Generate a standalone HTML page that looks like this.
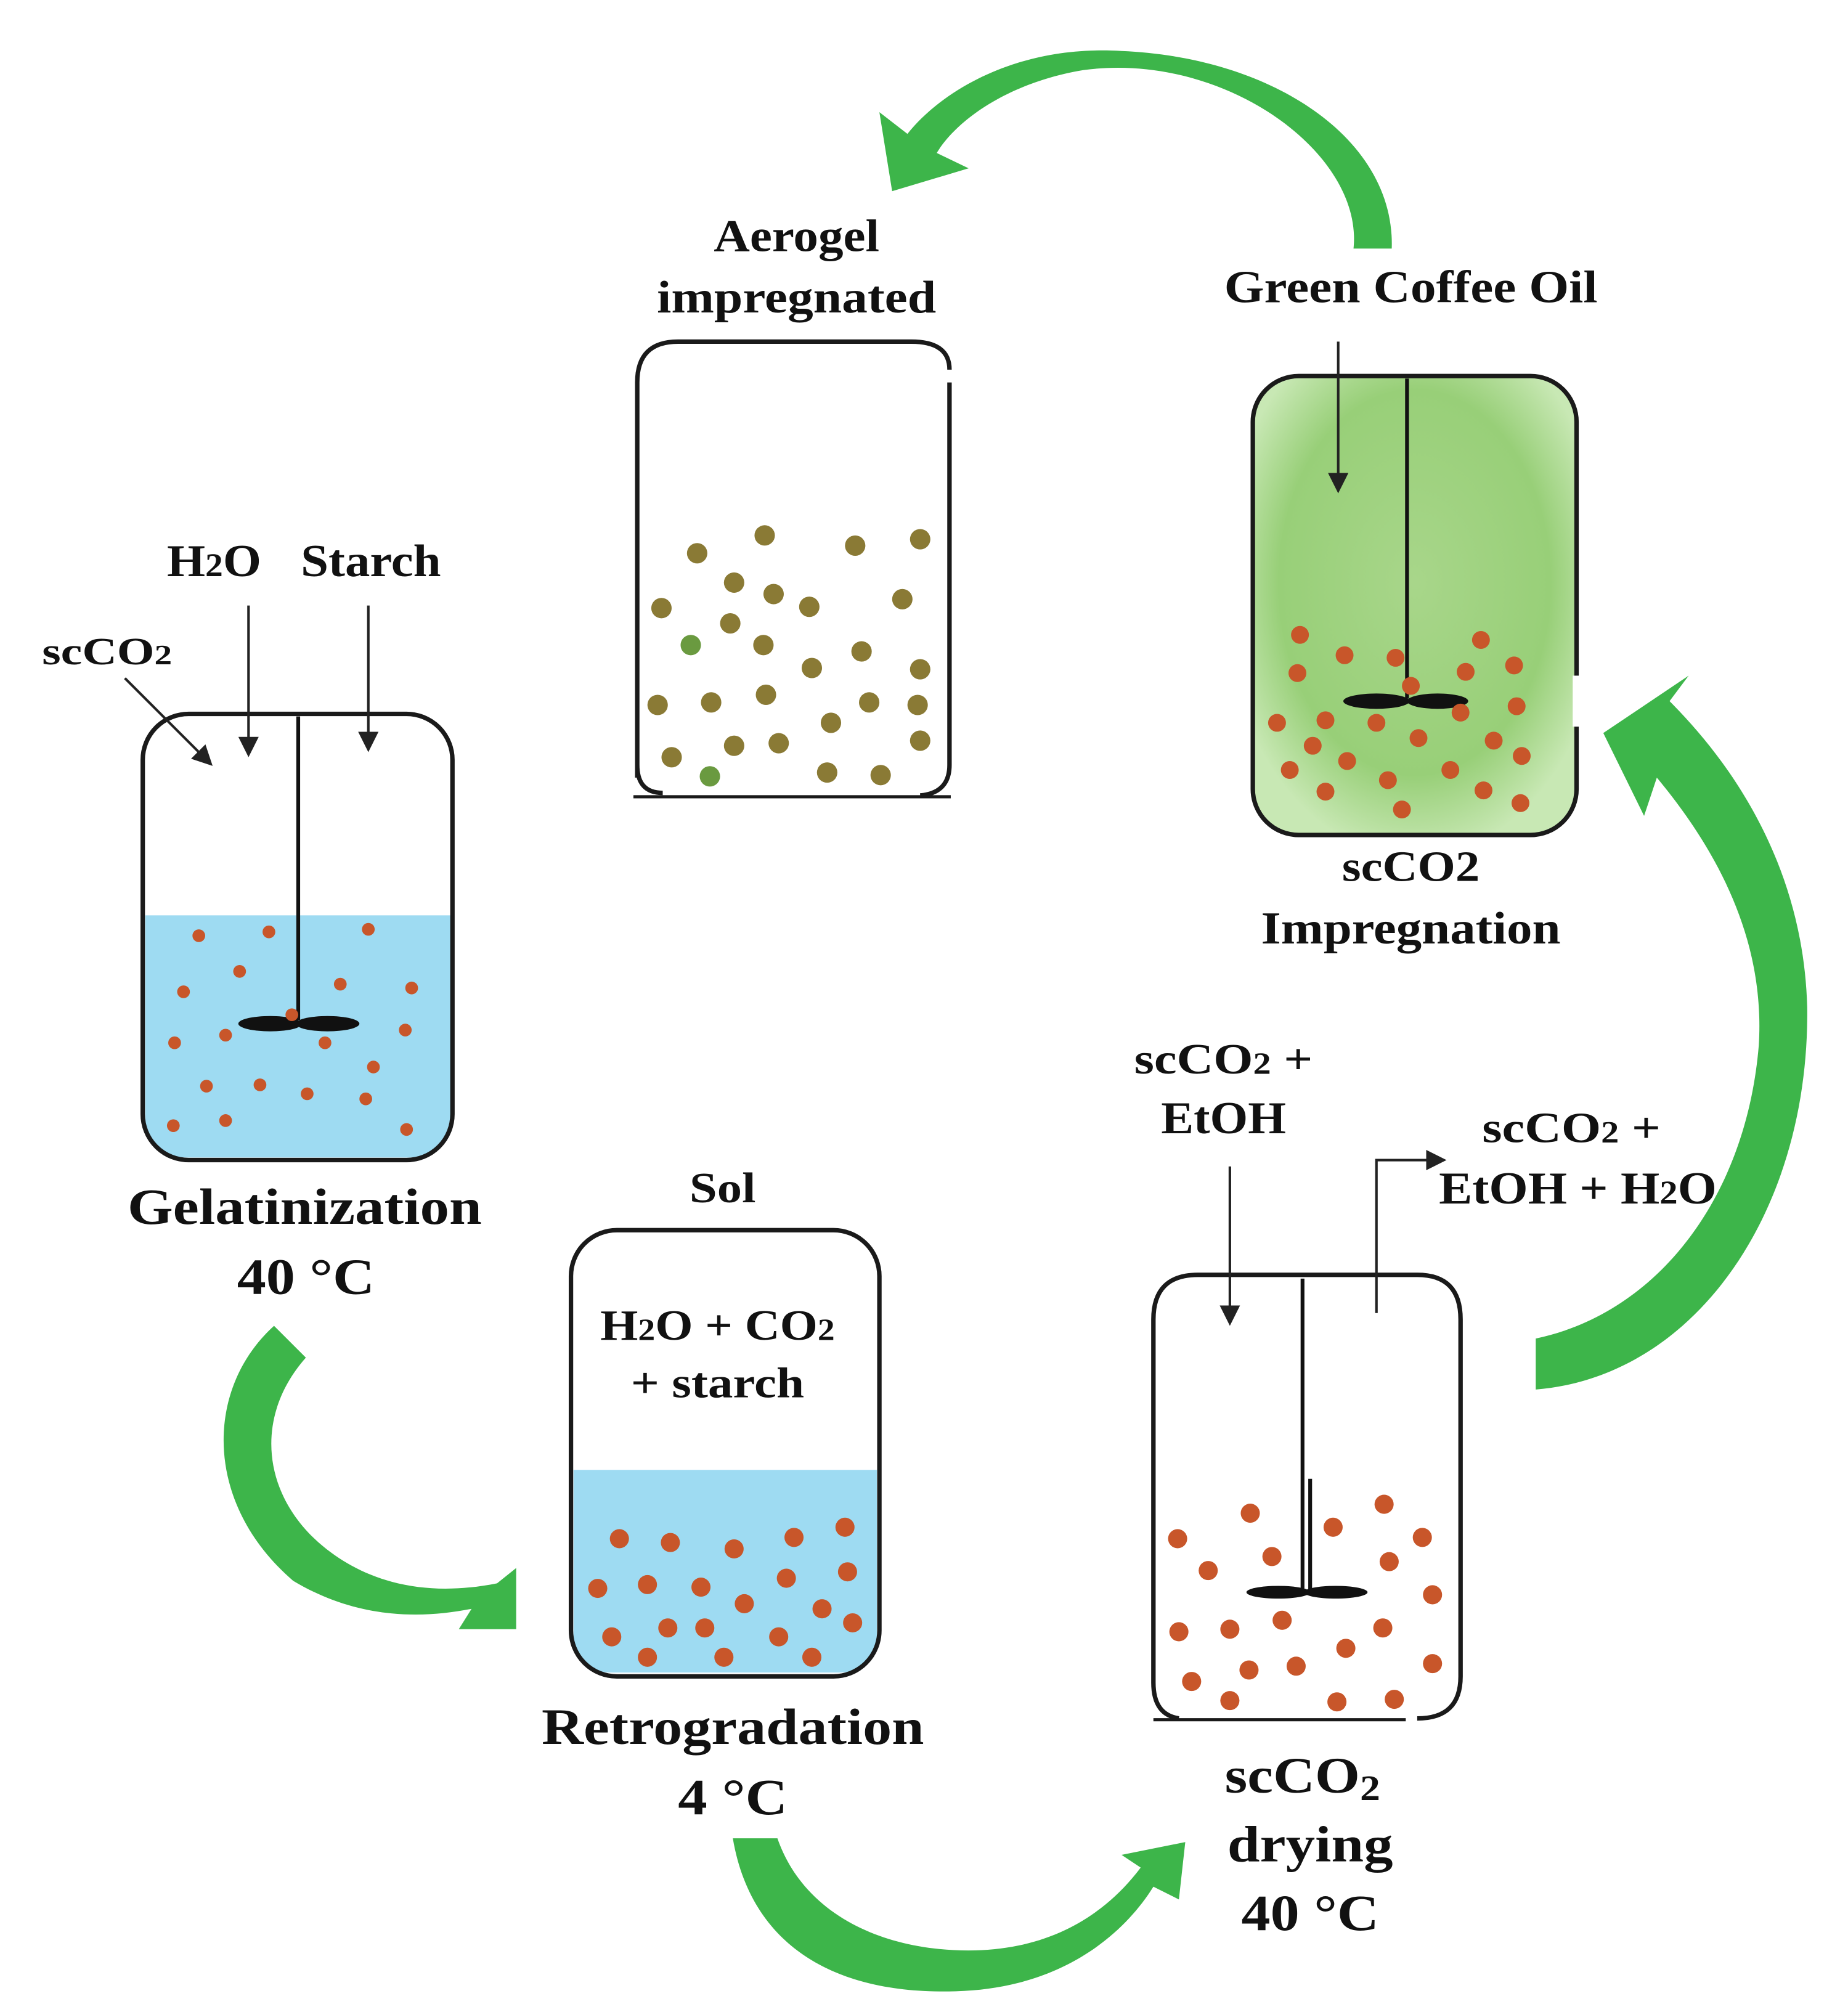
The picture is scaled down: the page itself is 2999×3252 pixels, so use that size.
<!DOCTYPE html>
<html><head><meta charset="utf-8"><style>
html,body{margin:0;padding:0;background:#fff}
svg{display:block}
text{font-family:"Liberation Serif",serif;font-weight:bold;fill:#111;text-anchor:middle}
</style></head><body>
<svg width="2999" height="3252" viewBox="0 0 1450 1572" preserveAspectRatio="none" xmlns="http://www.w3.org/2000/svg">
<defs>
<radialGradient id="gg" cx="50%" cy="45%" r="60%"><stop offset="0" stop-color="#a8d68a"/><stop offset="0.7" stop-color="#98cf78"/><stop offset="1" stop-color="#c8e8b4"/></radialGradient>
<marker id="ah" markerWidth="8" markerHeight="8" refX="6" refY="4" orient="auto"><path d="M0,0 L8,4 L0,8 Z" fill="#222"/></marker>
</defs>
<g fill="#3db54a">
<path d="M1062,195 C1070,120 960,40 850,55 C790,65 750,95 735,120 L760,132 L700,150 L690,88 L712,105 C740,70 800,35 880,40 C1000,45 1095,110 1092,195 Z"/>
<path d="M1205,1090 C1330,1080 1420,950 1418,790 C1415,680 1360,600 1310,550 L1325,530 L1258,575 L1290,640 L1300,610 C1350,670 1385,740 1380,820 C1370,940 1300,1030 1205,1050 Z"/>
<path d="M215,1040 C160,1090 160,1180 230,1240 C280,1270 330,1270 370,1262 L360,1278 L405,1278 L405,1230 L390,1242 C340,1252 290,1245 250,1210 C205,1170 200,1110 240,1065 Z"/>
<path d="M575,1442 C590,1530 660,1565 750,1562 C830,1560 880,1520 905,1480 L925,1490 L930,1445 L880,1455 L895,1465 C865,1505 820,1530 760,1530 C690,1530 630,1500 610,1442 Z"/>
</g>

<path d="M114,718 H354 V875 Q354,908 320,908 H148 Q114,908 114,875 Z" fill="#9edbf2"/>
<rect x="112" y="560" width="243" height="350" rx="36" fill="none" stroke="#1a1a1a" stroke-width="3.5"/>
<line x1="234" y1="562" x2="234" y2="800" stroke="#111" stroke-width="3"/>
<ellipse cx="212" cy="803" rx="25" ry="6" fill="#111"/><ellipse cx="257" cy="803" rx="25" ry="6" fill="#111"/>
<g fill="#c8562a">
<circle cx="156" cy="734" r="5"/><circle cx="211" cy="731" r="5"/><circle cx="289" cy="729" r="5"/><circle cx="144" cy="778" r="5"/><circle cx="188" cy="762" r="5"/><circle cx="267" cy="772" r="5"/><circle cx="323" cy="775" r="5"/><circle cx="137" cy="818" r="5"/><circle cx="177" cy="812" r="5"/><circle cx="255" cy="818" r="5"/><circle cx="318" cy="808" r="5"/><circle cx="293" cy="837" r="5"/><circle cx="162" cy="852" r="5"/><circle cx="204" cy="851" r="5"/><circle cx="241" cy="858" r="5"/><circle cx="287" cy="862" r="5"/><circle cx="136" cy="883" r="5"/><circle cx="177" cy="879" r="5"/><circle cx="319" cy="886" r="5"/><circle cx="229" cy="796" r="5"/>
</g>
<line x1="195" y1="475" x2="195" y2="590" stroke="#222" stroke-width="2" marker-end="url(#ah)"/>
<line x1="289" y1="475" x2="289" y2="586" stroke="#222" stroke-width="2" marker-end="url(#ah)"/>
<line x1="98" y1="532" x2="164" y2="598" stroke="#222" stroke-width="2" marker-end="url(#ah)"/>
<text x="168" y="452" font-size="36" textLength="74" lengthAdjust="spacingAndGlyphs">H<tspan font-size="26">2</tspan>O</text>
<text x="291" y="452" font-size="36" textLength="110" lengthAdjust="spacingAndGlyphs">Starch</text>
<text x="84" y="521" font-size="30" textLength="102" lengthAdjust="spacingAndGlyphs">scCO<tspan font-size="22">2</tspan></text>
<text x="239" y="960" font-size="40" textLength="278" lengthAdjust="spacingAndGlyphs">Gelatinization</text>
<text x="240" y="1015" font-size="40" textLength="108" lengthAdjust="spacingAndGlyphs">40 °C</text>

<path d="M500,610 V300 Q500,268 532,268 H715 Q745,268 745,290 M745,300 V600 Q745,622 722,624 M520,622 Q500,622 500,600" fill="none" stroke="#1a1a1a" stroke-width="3.5"/>
<line x1="497" y1="625" x2="746" y2="625" stroke="#1a1a1a" stroke-width="2.5"/>
<g fill="#8a7a35">
<circle cx="547" cy="434" r="8"/><circle cx="600" cy="420" r="8"/><circle cx="671" cy="428" r="8"/><circle cx="722" cy="423" r="8"/><circle cx="576" cy="457" r="8"/><circle cx="607" cy="466" r="8"/><circle cx="635" cy="476" r="8"/><circle cx="708" cy="470" r="8"/><circle cx="519" cy="477" r="8"/><circle cx="573" cy="489" r="8"/><circle cx="599" cy="506" r="8"/><circle cx="676" cy="511" r="8"/><circle cx="637" cy="524" r="8"/><circle cx="722" cy="525" r="8"/><circle cx="516" cy="553" r="8"/><circle cx="558" cy="551" r="8"/><circle cx="601" cy="545" r="8"/><circle cx="682" cy="551" r="8"/><circle cx="652" cy="567" r="8"/><circle cx="720" cy="553" r="8"/><circle cx="576" cy="585" r="8"/><circle cx="611" cy="583" r="8"/><circle cx="527" cy="594" r="8"/><circle cx="722" cy="581" r="8"/><circle cx="649" cy="606" r="8"/><circle cx="691" cy="608" r="8"/>
</g>
<g fill="#6a9a40"><circle cx="542" cy="506" r="8"/><circle cx="557" cy="609" r="8"/></g>
<text x="625" y="197" font-size="36" textLength="130" lengthAdjust="spacingAndGlyphs">Aerogel</text>
<text x="625" y="245" font-size="36" textLength="219" lengthAdjust="spacingAndGlyphs">impregnated</text>

<rect x="983" y="295" width="254" height="360" rx="36" fill="url(#gg)" stroke="#1a1a1a" stroke-width="3.5"/>
<rect x="1234" y="530" width="8" height="40" fill="#fff"/>
<line x1="1104" y1="297" x2="1104" y2="548" stroke="#111" stroke-width="3"/>
<ellipse cx="1080" cy="550" rx="26" ry="6" fill="#111"/><ellipse cx="1128" cy="550" rx="24" ry="6" fill="#111"/>
<line x1="1050" y1="268" x2="1050" y2="383" stroke="#222" stroke-width="2" marker-end="url(#ah)"/>
<g fill="#c8562a">
<circle cx="1020" cy="498" r="7"/><circle cx="1055" cy="514" r="7"/><circle cx="1095" cy="516" r="7"/><circle cx="1162" cy="502" r="7"/><circle cx="1188" cy="522" r="7"/><circle cx="1018" cy="528" r="7"/><circle cx="1150" cy="527" r="7"/><circle cx="1107" cy="538" r="7"/><circle cx="1190" cy="554" r="7"/><circle cx="1002" cy="567" r="7"/><circle cx="1040" cy="565" r="7"/><circle cx="1080" cy="567" r="7"/><circle cx="1146" cy="559" r="7"/><circle cx="1113" cy="579" r="7"/><circle cx="1172" cy="581" r="7"/><circle cx="1030" cy="585" r="7"/><circle cx="1057" cy="597" r="7"/><circle cx="1194" cy="593" r="7"/><circle cx="1012" cy="604" r="7"/><circle cx="1089" cy="612" r="7"/><circle cx="1138" cy="604" r="7"/><circle cx="1040" cy="621" r="7"/><circle cx="1164" cy="620" r="7"/><circle cx="1100" cy="635" r="7"/><circle cx="1193" cy="630" r="7"/>
</g>
<text x="1107" y="237" font-size="36" textLength="293" lengthAdjust="spacingAndGlyphs">Green Coffee Oil</text>
<text x="1107" y="691" font-size="34" textLength="108" lengthAdjust="spacingAndGlyphs">scCO2</text>
<text x="1107" y="740" font-size="36" textLength="235" lengthAdjust="spacingAndGlyphs">Impregnation</text>

<path d="M450,1153 H688 V1282 Q688,1312 658,1312 H480 Q450,1312 450,1282 Z" fill="#9edbf2"/>
<rect x="448" y="965" width="242" height="350" rx="36" fill="none" stroke="#1a1a1a" stroke-width="3.5"/>
<g fill="#c8562a">
<circle cx="486" cy="1207" r="7.5"/><circle cx="526" cy="1210" r="7.5"/><circle cx="576" cy="1215" r="7.5"/><circle cx="623" cy="1206" r="7.5"/><circle cx="663" cy="1198" r="7.5"/><circle cx="469" cy="1246" r="7.5"/><circle cx="508" cy="1243" r="7.5"/><circle cx="550" cy="1245" r="7.5"/><circle cx="617" cy="1238" r="7.5"/><circle cx="665" cy="1233" r="7.5"/><circle cx="584" cy="1258" r="7.5"/><circle cx="645" cy="1262" r="7.5"/><circle cx="480" cy="1284" r="7.5"/><circle cx="524" cy="1277" r="7.5"/><circle cx="553" cy="1277" r="7.5"/><circle cx="611" cy="1284" r="7.5"/><circle cx="669" cy="1273" r="7.5"/><circle cx="508" cy="1300" r="7.5"/><circle cx="568" cy="1300" r="7.5"/><circle cx="637" cy="1300" r="7.5"/>
</g>
<text x="567" y="943" font-size="34" textLength="52" lengthAdjust="spacingAndGlyphs">Sol</text>
<text x="563" y="1051" font-size="34" textLength="184" lengthAdjust="spacingAndGlyphs">H<tspan font-size="24">2</tspan>O + CO<tspan font-size="24">2</tspan></text>
<text x="563" y="1096" font-size="34" textLength="136" lengthAdjust="spacingAndGlyphs">+ starch</text>
<text x="575" y="1368" font-size="40" textLength="300" lengthAdjust="spacingAndGlyphs">Retrogradation</text>
<text x="575" y="1423" font-size="40" textLength="86" lengthAdjust="spacingAndGlyphs">4 °C</text>

<path d="M925,1348 Q905,1345 905,1320 V1035 Q905,1000 940,1000 H1112 Q1146,1000 1146,1035 V1315 Q1146,1348 1112,1348" fill="none" stroke="#1a1a1a" stroke-width="3.5"/>
<line x1="905" y1="1349" x2="1103" y2="1349" stroke="#1a1a1a" stroke-width="2.5"/>
<line x1="1022" y1="1003" x2="1022" y2="1248" stroke="#111" stroke-width="3"/>
<line x1="1028" y1="1160" x2="1028" y2="1248" stroke="#111" stroke-width="3"/>
<ellipse cx="1003" cy="1249" rx="25" ry="5" fill="#111"/><ellipse cx="1048" cy="1249" rx="25" ry="5" fill="#111"/>
<line x1="965" y1="915" x2="965" y2="1036" stroke="#222" stroke-width="2" marker-end="url(#ah)"/>
<polyline points="1080,1030 1080,910 1131,910" fill="none" stroke="#222" stroke-width="2" marker-end="url(#ah)"/>
<g fill="#c8562a">
<circle cx="1086" cy="1180" r="7.5"/><circle cx="981" cy="1187" r="7.5"/><circle cx="1046" cy="1198" r="7.5"/><circle cx="924" cy="1207" r="7.5"/><circle cx="1116" cy="1206" r="7.5"/><circle cx="998" cy="1221" r="7.5"/><circle cx="1090" cy="1225" r="7.5"/><circle cx="948" cy="1232" r="7.5"/><circle cx="1124" cy="1251" r="7.5"/><circle cx="1006" cy="1271" r="7.5"/><circle cx="965" cy="1278" r="7.5"/><circle cx="1085" cy="1277" r="7.5"/><circle cx="925" cy="1280" r="7.5"/><circle cx="1056" cy="1293" r="7.5"/><circle cx="980" cy="1310" r="7.5"/><circle cx="1017" cy="1307" r="7.5"/><circle cx="1124" cy="1305" r="7.5"/><circle cx="935" cy="1319" r="7.5"/><circle cx="965" cy="1334" r="7.5"/><circle cx="1049" cy="1335" r="7.5"/><circle cx="1094" cy="1333" r="7.5"/>
</g>
<text x="960" y="842" font-size="34" textLength="140" lengthAdjust="spacingAndGlyphs">scCO<tspan font-size="24">2</tspan> +</text>
<text x="960" y="889" font-size="36" textLength="98" lengthAdjust="spacingAndGlyphs">EtOH</text>
<text x="1233" y="896" font-size="34" textLength="140" lengthAdjust="spacingAndGlyphs">scCO<tspan font-size="24">2</tspan> +</text>
<text x="1238" y="944" font-size="36" textLength="218" lengthAdjust="spacingAndGlyphs">EtOH + H<tspan font-size="26">2</tspan>O</text>
<text x="1022" y="1406" font-size="40" textLength="122" lengthAdjust="spacingAndGlyphs">scCO<tspan font-size="28" dy="6">2</tspan></text>
<text x="1028" y="1460" font-size="40" textLength="130" lengthAdjust="spacingAndGlyphs">drying</text>
<text x="1028" y="1514" font-size="40" textLength="108" lengthAdjust="spacingAndGlyphs">40 °C</text>
</svg>
</body></html>
